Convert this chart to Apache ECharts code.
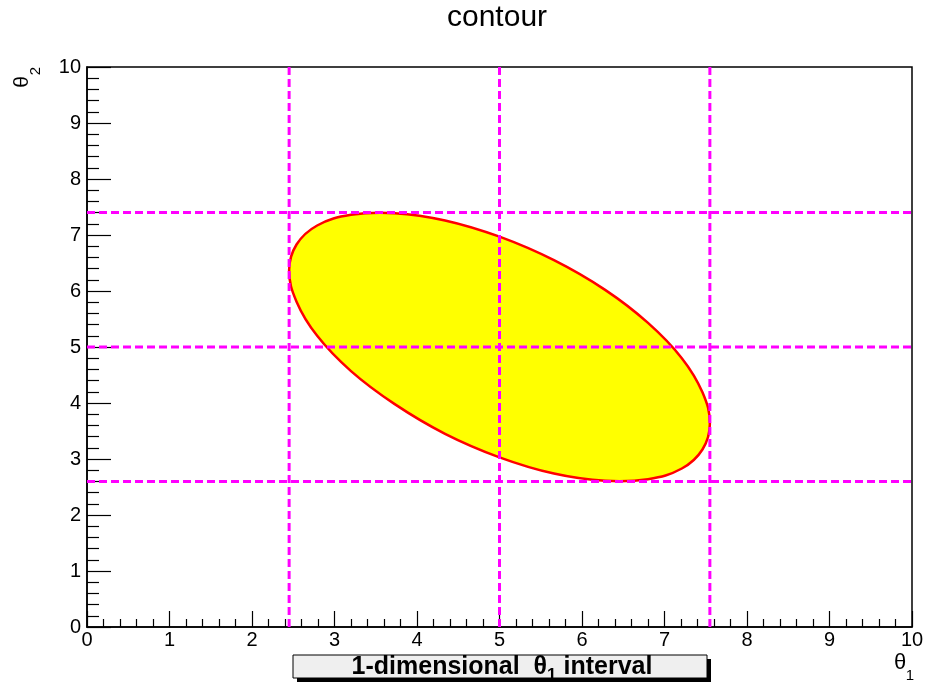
<!DOCTYPE html>
<html>
<head>
<meta charset="utf-8">
<script src="https://cdn.jsdelivr.net/npm/echarts@6/dist/echarts.min.js"></script>
<style>html,body{margin:0;padding:0;background:#fff;}#c{width:927px;height:685px;}</style>
</head>
<body>
<div id="c"></div>
<script>
// Contour
const contourX = [7.55,7.46,7.21,6.80,6.28,5.66,5.00,4.34,3.73,3.20,2.79,2.54,2.45,2.54,2.79,3.20,3.73,4.34,5.00,5.66,6.28,6.80,7.21,7.46];
const contourY = [3.63,4.19,4.80,5.43,6.02,6.55,6.97,7.26,7.39,7.36,7.17,6.83,6.37,5.81,5.20,4.57,3.98,3.45,3.03,2.74,2.61,2.64,2.83,3.17];
// Interval lines
const theta1Lines = [2.45, 5.0, 7.55];
const theta2Lines = [2.6, 5.0, 7.4];
// Axes
const axisMin = 0, axisMax = 10, axisStep = 1;
const titleText = 'contour';
const boxText = ['1-dimensional  θ', '1', ' interval'];
const xTitle = ['θ', '1'];
const yTitle = ['θ', '2'];

const FONT = '"Liberation Sans", Arial, Helvetica, sans-serif';
const chart = echarts.init(document.getElementById('c'), null, {renderer: 'canvas'});

const lineSeries = [];
theta1Lines.forEach(v => lineSeries.push({
  type: 'line', data: [[v, axisMin], [v, axisMax]], symbol: 'none', silent: true, z: 3,
  lineStyle: {color: '#ff00ff', width: 3, type: [8, 4]}
}));
theta2Lines.forEach(v => lineSeries.push({
  type: 'line', data: [[axisMin, v], [axisMax, v]], symbol: 'none', silent: true, z: 3,
  lineStyle: {color: '#ff00ff', width: 3, type: [8, 4]}
}));

function axisCommon(tickLen, minorLen) {
  return {
    type: 'value', min: axisMin, max: axisMax, interval: axisStep,
    splitLine: {show: false},
    axisLine: {show: true, onZero: false, lineStyle: {color: '#000', width: 1.5}},
    axisTick: {show: true, inside: true, length: tickLen, lineStyle: {color: '#000', width: 1.2}},
    minorTick: {show: true, splitNumber: 5, length: minorLen, lineStyle: {color: '#000', width: 1.2}},
    axisLabel: {color: '#000', fontSize: 20, fontFamily: FONT}
  };
}

const xAxis = axisCommon(16, 8);
xAxis.axisLabel.margin = 3;
const yAxis = axisCommon(24, 12);
yAxis.axisLabel.margin = 6;

const txt = (s, fs, x, y, rot) => ({
  type: 'text', x: x, y: y, rotation: rot || 0, z: 12,
  style: {text: s, fontSize: fs, fontFamily: FONT, fill: '#000', align: 'center', verticalAlign: 'middle'}
});

chart.setOption({
  animation: false,
  backgroundColor: '#fff',
  title: {
    text: titleText, left: 447, top: 3, padding: 0,
    textStyle: {fontSize: 30, fontWeight: 'normal', fontFamily: FONT, color: '#000'}
  },
  grid: {left: 87, right: 15, top: 67, bottom: 58, show: true, borderColor: '#000', borderWidth: 1.5, backgroundColor: 'transparent'},
  xAxis: xAxis,
  yAxis: yAxis,
  series: [{
    type: 'custom', z: 2, silent: true,
    data: [0],
    renderItem: function (params, api) {
      const pts = contourX.map((x, i) => api.coord([x, contourY[i]]));
      return {
        type: 'polygon',
        shape: {points: pts, smooth: 0.4},
        style: {fill: '#ffff00', stroke: '#ff0000', lineWidth: 2.5}
      };
    }
  }].concat(lineSeries),
  graphic: [
    {type: 'rect', shape: {x: 297, y: 659, width: 414, height: 23}, style: {fill: '#000'}, z: 10},
    {type: 'rect', shape: {x: 293, y: 655, width: 414, height: 23}, style: {fill: '#efefef', stroke: '#000', lineWidth: 1}, z: 11},
    {type: 'text', x: 502, y: 667, z: 12, style: {
      text: '{a|' + boxText[0] + '}{s|' + boxText[1] + '}{a|' + boxText[2] + '}',
      align: 'center', verticalAlign: 'middle',
      rich: {
        a: {fontSize: 25, fontWeight: 'bold', fontFamily: FONT, fill: '#000', lineHeight: 34},
        s: {fontSize: 17, fontWeight: 'bold', fontFamily: FONT, fill: '#000', lineHeight: 14, verticalAlign: 'bottom'}
      }
    }},
    txt(xTitle[0], 22, 900, 663),
    txt(xTitle[1], 15, 910, 676),
    txt(yTitle[0], 21, 22, 82, Math.PI / 2),
    txt(yTitle[1], 15, 36, 71, Math.PI / 2)
  ]
});
</script>
</body>
</html>
